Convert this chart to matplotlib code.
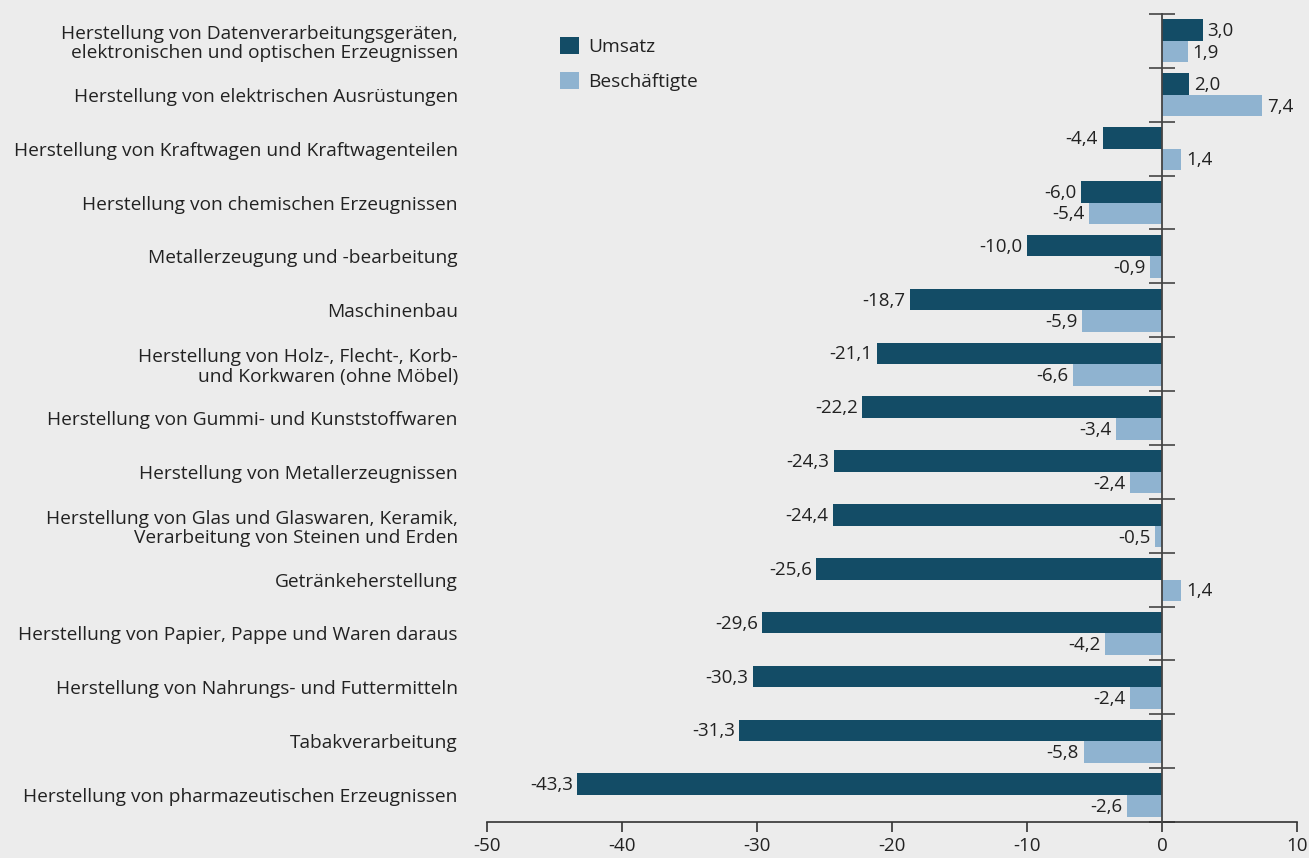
import numpy as np
import matplotlib.pyplot as plt

# Branchen, Veränderung in %
branchen = [
    'Herstellung von Datenverarbeitungsgeräten,\nelektronischen und optischen Erzeugnissen',
    'Herstellung von elektrischen Ausrüstungen',
    'Herstellung von Kraftwagen und Kraftwagenteilen',
    'Herstellung von chemischen Erzeugnissen',
    'Metallerzeugung und -bearbeitung',
    'Maschinenbau',
    'Herstellung von Holz-, Flecht-, Korb-\nund Korkwaren (ohne Möbel)',
    'Herstellung von Gummi- und Kunststoffwaren',
    'Herstellung von Metallerzeugnissen',
    'Herstellung von Glas und Glaswaren, Keramik,\nVerarbeitung von Steinen und Erden',
    'Getränkeherstellung',
    'Herstellung von Papier, Pappe und Waren daraus',
    'Herstellung von Nahrungs- und Futtermitteln',
    'Tabakverarbeitung',
    'Herstellung von pharmazeutischen Erzeugnissen',
]
umsatz = [3.0, 2.0, -4.4, -6.0, -10.0, -18.7, -21.1, -22.2, -24.3, -24.4,
          -25.6, -29.6, -30.3, -31.3, -43.3]
beschaeftigte = [1.9, 7.4, 1.4, -5.4, -0.9, -5.9, -6.6, -3.4, -2.4, -0.5,
                 1.4, -4.2, -2.4, -5.8, -2.6]
xticks = [-50, -40, -30, -20, -10, 0, 10]

dunkel = '#134c66'
hell = '#8fb3d0'
bg = '#ececec'
txt = '#222222'
zahlfont = ['Liberation Sans Narrow', 'Open Sans', 'DejaVu Sans']

plt.rcParams['font.family'] = ['Open Sans', 'DejaVu Sans']

fig = plt.figure(figsize=(13.09, 8.58), dpi=100, facecolor=bg)
ax = fig.add_axes([0.372, 0.042, 0.619, 0.9417], facecolor=bg)

# zero line carries the group separators (set before ticks, it resets them)
ax.spines['right'].set_position(('data', 0))
ax.spines['right'].set_color('#444444')
ax.spines['right'].set_linewidth(1.3)
ax.spines['right'].set_zorder(3)
ax.spines['left'].set_visible(False)
ax.spines['top'].set_visible(False)
ax.spines['bottom'].set_color('#333333')
ax.spines['bottom'].set_linewidth(1.2)

n = len(branchen)
y = np.arange(n)
h = 0.4
ax.barh(y - h / 2, umsatz, height=h, color=dunkel, label='Umsatz', zorder=2)
ax.barh(y + h / 2, beschaeftigte, height=h, color=hell, label='Beschäftigte', zorder=2)

def fmt(v):
    return f'{v:.1f}'.replace('.', ',')

for yi, u, b in zip(y, umsatz, beschaeftigte):
    for val, yy in ((u, yi - h / 2), (b, yi + h / 2)):
        off = 0.35 if val >= 0 else -0.35
        ax.text(val + off, yy + 0.02, fmt(val), ha='left' if val >= 0 else 'right',
                va='center', fontsize=13.5, color=txt, family=zahlfont)

ax.set_xlim(-50, 10)
ax.set_ylim(n - 0.5, -0.5)
ax.set_xticks(xticks)
ax.set_xticklabels([str(t) for t in xticks], fontsize=13.5, color=txt, family=zahlfont)
ax.tick_params(axis='x', direction='out', length=7, width=1.2, color='#333333', pad=4)

# category labels on the left, no tick marks
ax.set_yticks(y)
ax.set_yticklabels(branchen, fontsize=13.8, color=txt, ha='right', linespacing=1.1)
ax.tick_params(axis='y', which='major', left=True, length=0, pad=21)

ax.set_yticks(np.arange(n + 1) - 0.5, minor=True)
ax.tick_params(axis='y', which='minor', left=False, right=True, labelright=False,
               direction='inout', length=19, width=1.2, color='#444444')

ax.legend(loc='upper left', bbox_to_anchor=(0.069, 0.993), frameon=False,
          fontsize=13.8, handlelength=1.0, handleheight=1.0, handletextpad=0.45,
          labelspacing=0.85, labelcolor=txt)

fig.savefig('out.png', dpi=100, facecolor=bg)
